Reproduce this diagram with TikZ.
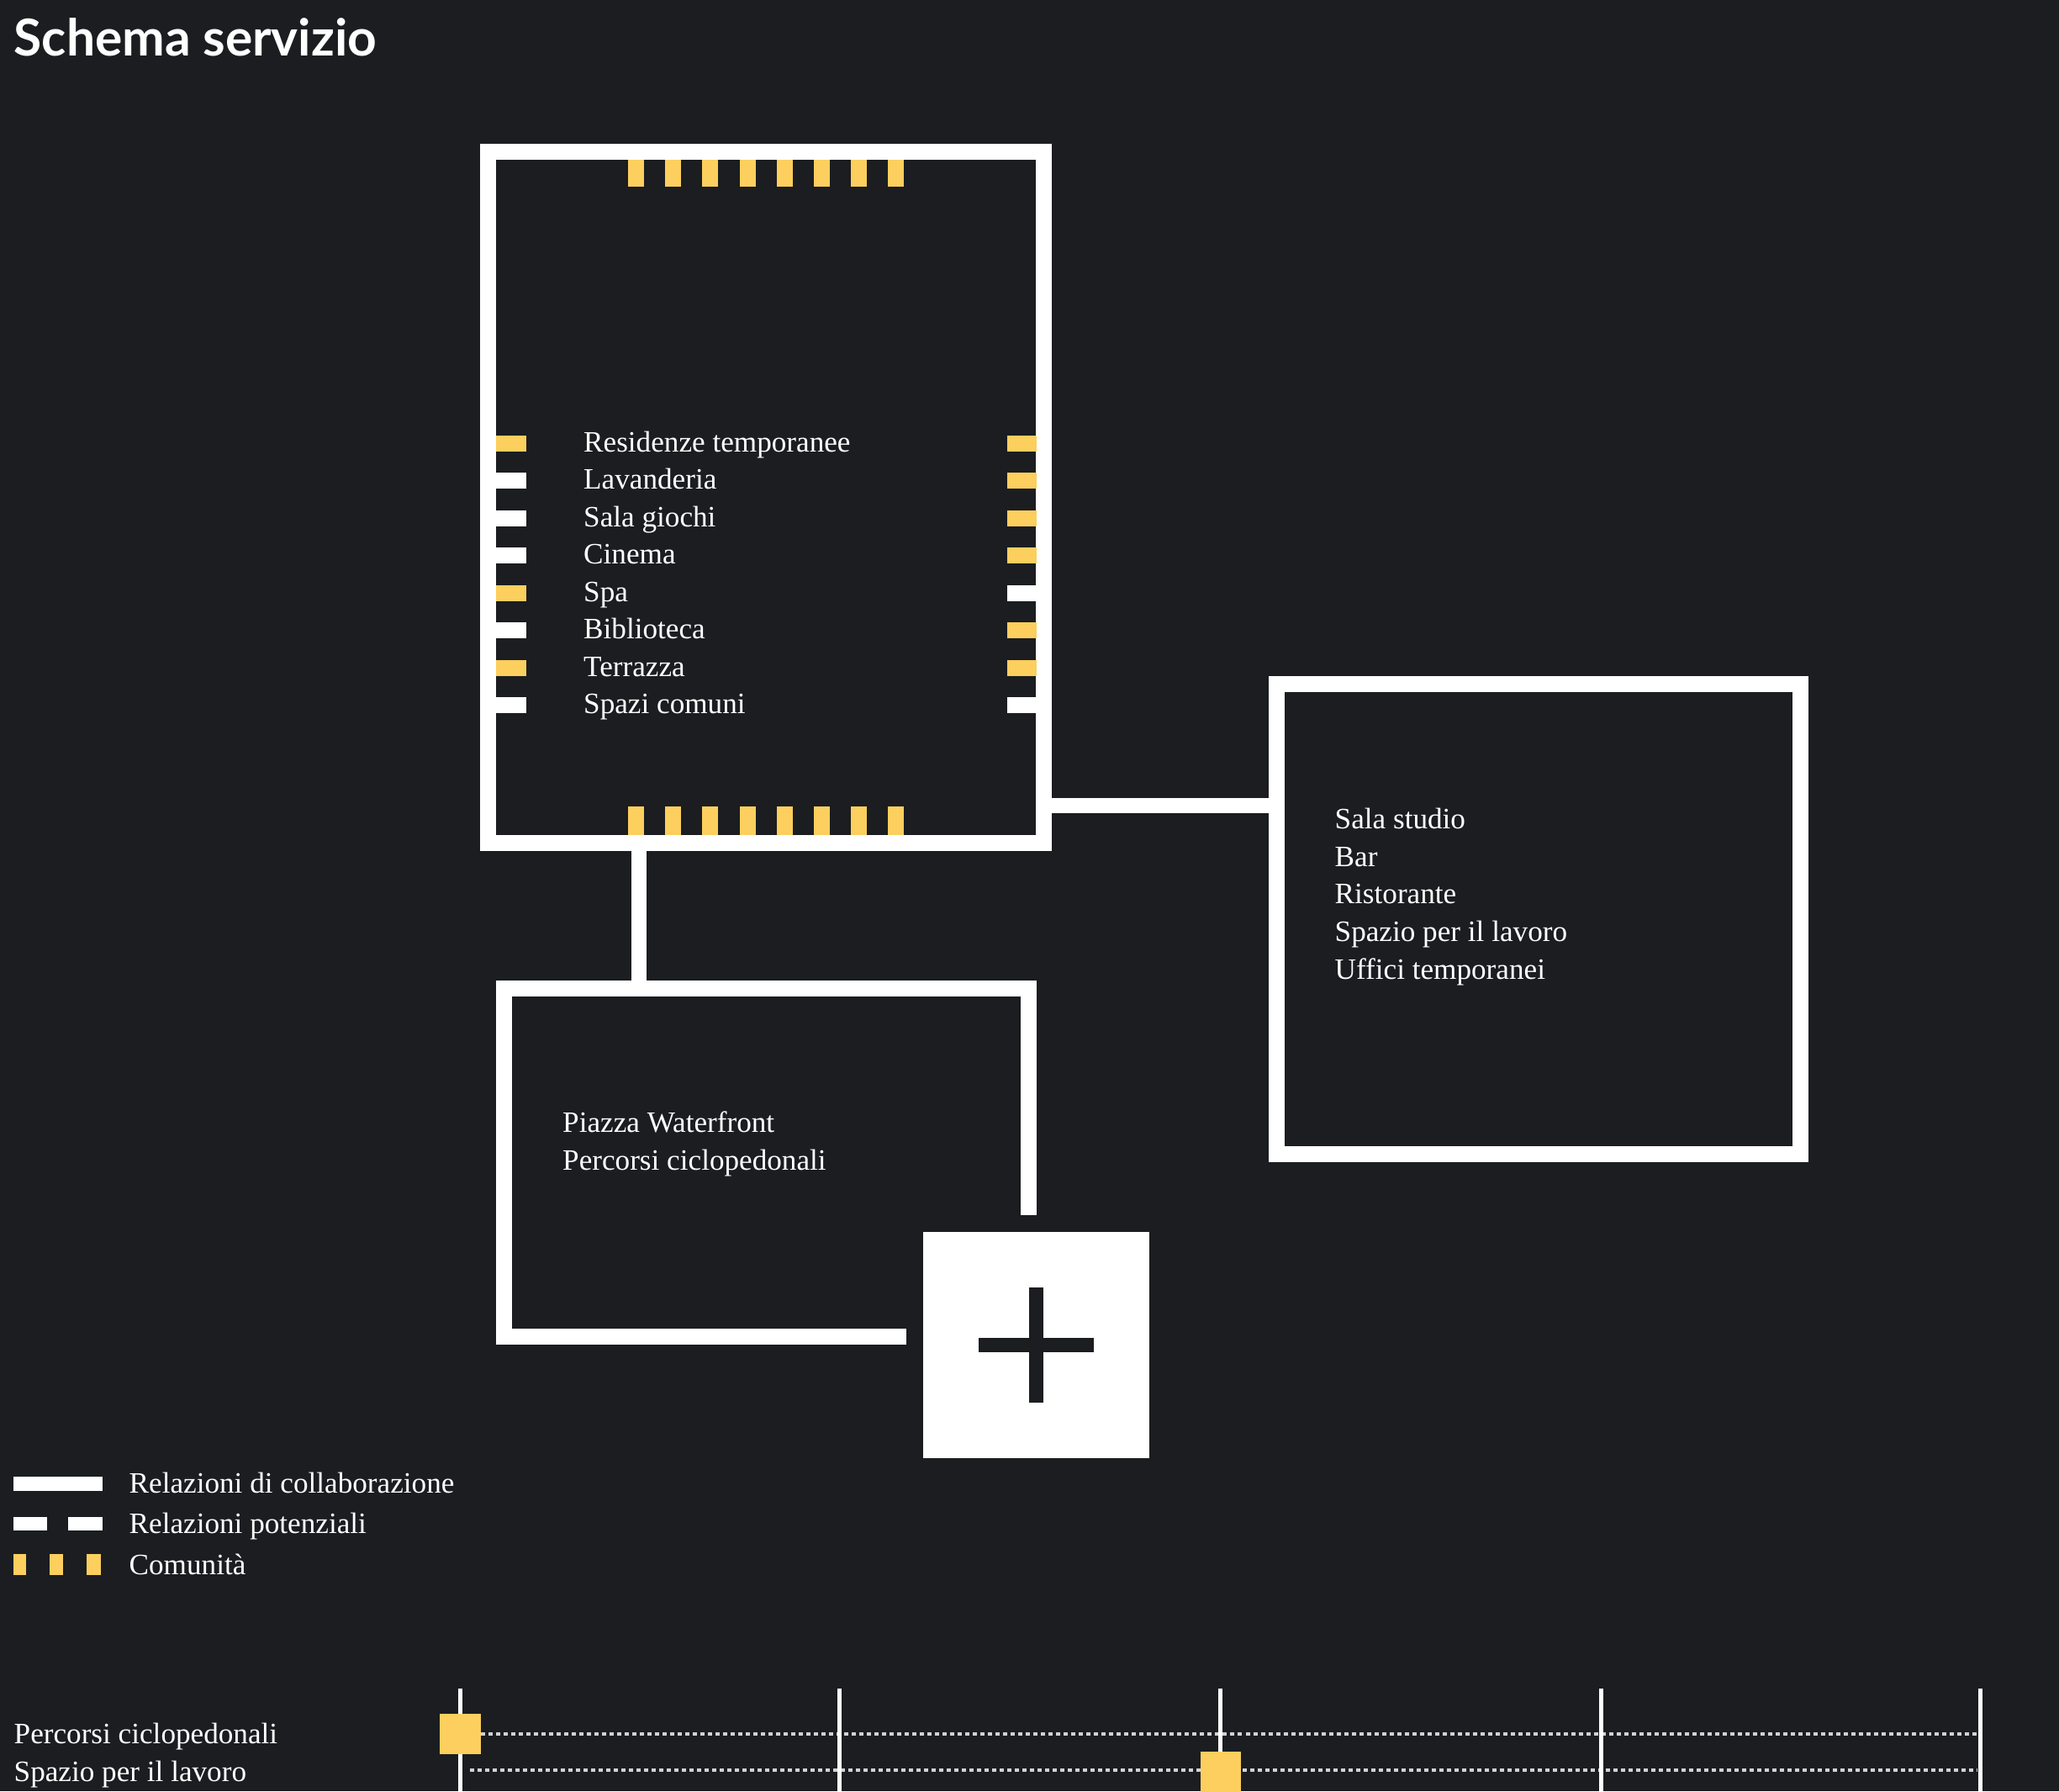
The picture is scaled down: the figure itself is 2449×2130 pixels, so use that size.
\documentclass[tikz,border=0pt]{standalone}
\usepackage{fontspec}
\setmainfont{Liberation Serif}
\newfontfamily\titlefont{Lato}
\usetikzlibrary{calc}
\definecolor{bg}{HTML}{1B1D20}
\definecolor{yel}{HTML}{FCCF5E}
\begin{document}
\begin{tikzpicture}[x=0.01cm,y=-0.01cm,
  frame/.style={draw=white, line width=0.19cm, inner sep=0, outer sep=0},
  frameline/.style={draw=white, line width=0.19cm},
  conn/.style={draw=white, line width=0.18cm},
  lbl/.style={text=white, font=\fontsize{10pt}{12.7pt}\selectfont, anchor=base west, inner sep=0},
  titlestyle/.style={text=white, font=\titlefont\bfseries\fontsize{17.2pt}{20pt}\selectfont, anchor=base west, inner sep=0},
  dotline/.style={draw=white!80!bg, line width=0.032cm, dash pattern=on 0.05cm off 0.04cm},
  vline/.style={draw=white, line width=0.05cm}
]
\fill[bg] (0,0) rectangle (2449,2130);
\useasboundingbox (0,0) rectangle (2449,2130);

\node[titlestyle] (title) at (16,67) {Schema servizio};

% main boxes
\node[frame, minimum width=6.6cm, minimum height=8.215cm] (A) at (911,591.75) {};
\node[frame, minimum width=6.23cm, minimum height=5.59cm] (C) at (1830,1093) {};
\node[inner sep=0, outer sep=0, minimum width=6.23cm, minimum height=4.135cm] (B) at (911.5,1382.75) {};
\node[fill=white, inner sep=0, outer sep=0, minimum size=2.69cm] (P) at (1232.5,1599.5) {};

% open frame of B
\coordinate (Bend1) at ([yshift=0.2cm]P.north);
\coordinate (Bend2) at ([xshift=-0.2cm]P.west);
\draw[frameline] (B.north east |- Bend1) -- (B.north east) -- (B.north west) -- (B.south west) -- (B.south west -| Bend2);

% plus sign
\draw[bg, line width=0.17cm] ([xshift=-0.685cm]P.center) -- ([xshift=0.685cm]P.center);
\draw[bg, line width=0.17cm] ([yshift=0.68cm]P.center) -- ([yshift=-0.68cm]P.center);

% connectors
\draw[conn] (A.east |- 0,958) -- (C.west |- 0,958);
\draw[conn] (A.south -| 760,0) -- (B.north -| 760,0);

% community ticks top / bottom
\foreach \k in {0,...,7} {
  \fill[yel] (747+44.2*\k,190) rectangle (766+44.2*\k,222);
  \fill[yel] (747+44.2*\k,959) rectangle (766+44.2*\k,993);
}
% side marks
\foreach \c [count=\i from 0] in {yel,white,white,white,yel,white,yel,white} {
  \fill[\c] (590,517.5+44.55*\i) rectangle (626,536.5+44.55*\i);
}
\foreach \c [count=\i from 0] in {yel,yel,yel,yel,white,yel,yel,white} {
  \fill[\c] (1198,517.5+44.55*\i) rectangle (1233,536.5+44.55*\i);
}

% texts in A
\foreach \t [count=\i from 0] in {Residenze temporanee,Lavanderia,Sala giochi,Cinema,Spa,Biblioteca,Terrazza,Spazi comuni} {
  \node[lbl] (a\i) at (693.5,537+44.55*\i) {\t};
}
% texts in C
\foreach \t [count=\i from 0] in {Sala studio,Bar,Ristorante,Spazio per il lavoro,Uffici temporanei} {
  \node[lbl] (c\i) at (1587,985.6+44.6*\i) {\t};
}
% texts in B
\node[lbl] (b0) at (668.5,1346) {Piazza Waterfront};
\node[lbl] (b1) at (668.5,1391) {Percorsi ciclopedonali};

% legend
\fill[white] (16,1756) rectangle (122,1773);
\fill[white] (16,1804) rectangle (56,1820);
\fill[white] (81,1804) rectangle (122,1820);
\fill[yel] (16,1848) rectangle (31,1873);
\fill[yel] (59,1848) rectangle (75,1873);
\fill[yel] (103,1848) rectangle (120,1873);
\node[lbl] (l0) at (153,1775) {Relazioni di collaborazione};
\node[lbl] (l1) at (153,1823.5) {Relazioni potenziali};
\node[lbl] (l2) at (153,1872) {Comunità};

% timeline
\draw[dotline] (572,2062) -- (2351,2062);
\draw[dotline] (559,2105) -- (2351,2105);
\foreach \x [count=\i] in {547,998,1451,1904,2355} {
  \coordinate (t\i) at (\x,2008);
  \draw[vline] (t\i) -- (\x,2135);
}
\fill[yel] (523,2038) rectangle (572,2086);
\fill[yel] (1428,2083) rectangle (1476,2140);
\node[lbl] (r0) at (16,2073) {Percorsi ciclopedonali};
\node[lbl] (r1) at (16,2118) {Spazio per il lavoro};
\end{tikzpicture}
\end{document}
